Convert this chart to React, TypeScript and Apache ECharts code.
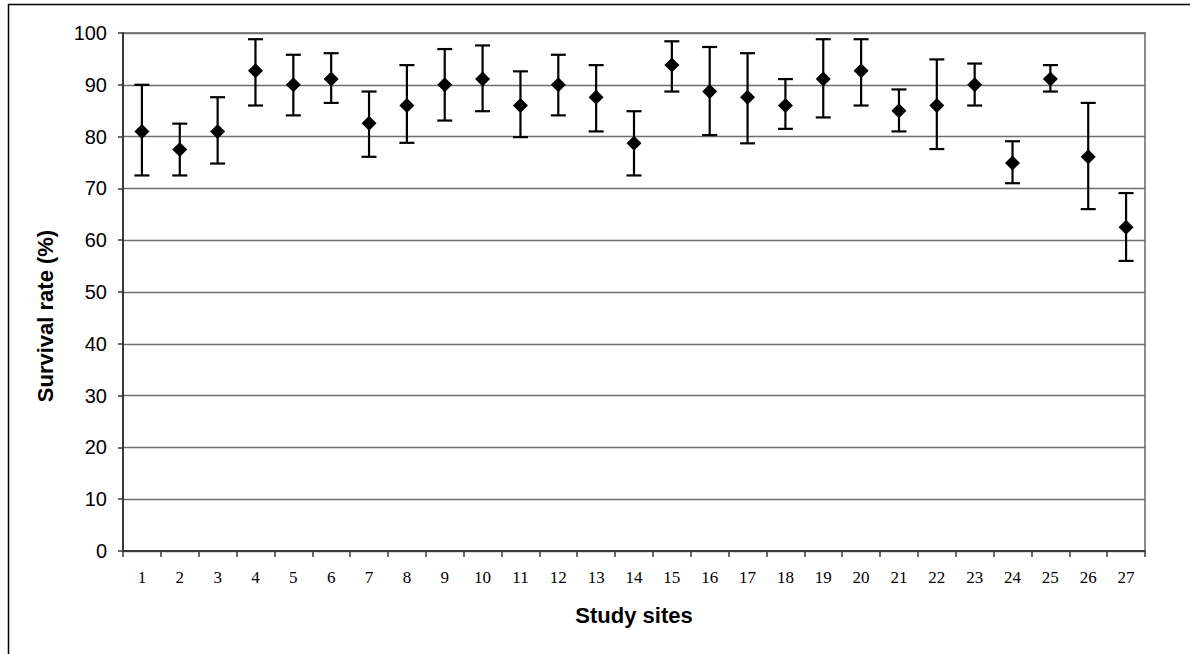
import React, { useEffect, useRef } from "react";
import * as echarts from "echarts";

const sites = ["1","2","3","4","5","6","7","8","9","10","11","12","13","14","15","16","17","18","19","20","21","22","23","24","25","26","27"];
const survival = [81.0,77.5,81.0,92.7,90.0,91.1,82.6,86.0,90.0,91.1,86.0,90.0,87.6,78.7,93.8,88.7,87.6,86.0,91.1,92.7,85.0,86.0,90.0,74.9,91.1,76.1,62.5];
const upper = [90.0,82.5,87.6,98.8,95.8,96.1,88.7,93.8,96.9,97.6,92.6,95.8,93.8,84.9,98.4,97.3,96.1,91.1,98.8,98.8,89.1,94.9,94.1,79.1,93.8,86.5,69.1];
const lower = [72.5,72.5,74.8,86.0,84.1,86.5,76.1,78.8,83.1,84.9,79.9,84.1,81.0,72.5,88.7,80.3,78.7,81.5,83.7,86.0,81.0,77.6,86.0,71.0,88.7,66.0,56.0];
const yTicks = { min: 0, max: 100, interval: 10 };

const SANS = "'Liberation Sans', Arial, sans-serif";
const SERIF = "'Liberation Serif', 'Times New Roman', serif";

export default function App() {
  const ref = useRef<HTMLDivElement>(null);
  useEffect(() => {
    if (!ref.current) return;
    const chart = echarts.init(ref.current, null, { renderer: "svg" });
    const errData = sites.map((s, i) => [i, lower[i], upper[i]]);
    chart.setOption({
      animation: false,
      backgroundColor: "#ffffff",
      grid: {
        left: 123,
        top: 33,
        width: 1022,
        height: 518,
        show: true,
        borderColor: "#8c8c8c",
        borderWidth: 2,
        backgroundColor: "transparent",
      },
      xAxis: {
        type: "category",
        data: sites,
        boundaryGap: true,
        axisLine: { show: true, lineStyle: { color: "#3a3a3a", width: 2 } },
        axisTick: { show: true, length: 6, lineStyle: { color: "#3a3a3a", width: 1.5 } },
        axisLabel: { margin: 18, fontFamily: SERIF, fontSize: 17, color: "#000" },
        splitLine: { show: false },
      },
      yAxis: {
        type: "value",
        min: yTicks.min,
        max: yTicks.max,
        interval: yTicks.interval,
        axisLine: { show: true, lineStyle: { color: "#3a3a3a", width: 2 } },
        axisTick: { show: true, length: 5, lineStyle: { color: "#3a3a3a", width: 1.5 } },
        axisLabel: { margin: 16, fontFamily: SANS, fontSize: 20, color: "#000" },
        splitLine: { show: true, lineStyle: { color: "#6e6e6e", width: 1.3 } },
      },
      graphic: [
        {
          type: "rect",
          shape: { x: 8.5, y: 4.5, width: 1190, height: 670 },
          style: { fill: "none", stroke: "#000", lineWidth: 1.5 },
          silent: true,
        },
        {
          type: "text",
          x: 45,
          y: 316,
          rotation: Math.PI / 2,
          style: {
            text: "Survival rate (%)",
            font: `bold 22px ${SANS}`,
            fill: "#000",
            align: "center",
            verticalAlign: "middle",
            textAlign: "center",
            textVerticalAlign: "middle",
          },
        },
        {
          type: "text",
          x: 634,
          y: 615,
          style: {
            text: "Study sites",
            font: `bold 22px ${SANS}`,
            fill: "#000",
            align: "center",
            verticalAlign: "middle",
            textAlign: "center",
            textVerticalAlign: "middle",
          },
        },
      ],
      series: [
        {
          type: "custom",
          data: errData,
          z: 2,
          renderItem: (params: any, api: any) => {
            const x = api.value(0);
            const lo = api.coord([x, api.value(1)]);
            const hi = api.coord([x, api.value(2)]);
            const hw = 7.5;
            const style = { stroke: "#000", lineWidth: 2.2, fill: "none" };
            return {
              type: "group",
              children: [
                { type: "line", shape: { x1: hi[0], y1: hi[1], x2: lo[0], y2: lo[1] }, style },
                { type: "line", shape: { x1: hi[0] - hw, y1: hi[1], x2: hi[0] + hw, y2: hi[1] }, style },
                { type: "line", shape: { x1: lo[0] - hw, y1: lo[1], x2: lo[0] + hw, y2: lo[1] }, style },
              ],
            };
          },
        },
        {
          type: "scatter",
          data: survival,
          symbol: "diamond",
          symbolSize: [15, 15],
          z: 3,
          itemStyle: { color: "#000", opacity: 1 },
        },
      ],
    });
    return () => chart.dispose();
  }, []);
  return (
    <div
      ref={ref}
      style={{ position: "fixed", left: 0, top: 0, width: 1190, height: 654, background: "#fff" }}
    />
  );
}
